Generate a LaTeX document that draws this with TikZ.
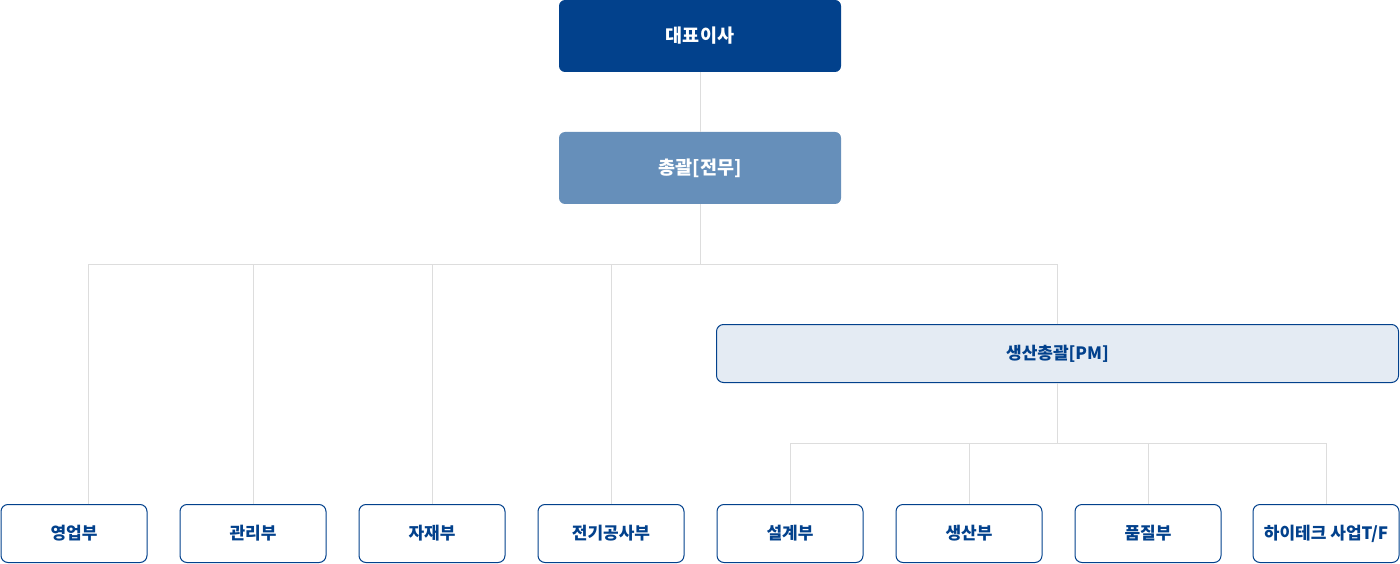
\documentclass[tikz,border=0pt]{standalone}
\usepackage{fontspec}
\newfontfamily\kr{Noto Sans CJK KR}
\definecolor{navy}{HTML}{02418C}
\definecolor{steel}{HTML}{668FBA}
\definecolor{pale}{HTML}{E4EBF3}
\definecolor{wire}{HTML}{DDDDDD}
\tikzset{
    topbox/.style={rounded corners=6pt, minimum width=282pt, minimum height=72pt,
        text=white, font=\kr\bfseries\fontsize{18.5pt}{22pt}\selectfont},
    deptbox/.style={draw=navy, line width=1pt, rounded corners=7pt, fill=white,
        minimum width=146pt, minimum height=58pt, text=navy,
        font=\kr\bfseries\fontsize{17pt}{20pt}\selectfont},
    link/.style={draw=wire, line width=1pt}
}
\begin{document}
\begin{tikzpicture}[x=1pt, y=-1pt]
    \useasboundingbox (0,0) rectangle (1400,564);
    \node[topbox, fill=navy] (ceo) at (700,36) {대표이사};
    \node[topbox, fill=steel] (gm) at (700,168) {총괄[전무]};
    \node[deptbox, fill=pale, minimum width=682pt] (pm) at (1057.5,353.5) {생산총괄[PM]};
    \node[deptbox] (sales) at (74,533.5) {영업부};
    \node[deptbox] (admin) at (253,533.5) {관리부};
    \node[deptbox] (matl) at (432,533.5) {자재부};
    \node[deptbox] (elec) at (611,533.5) {전기공사부};
    \node[deptbox] (design) at (790,533.5) {설계부};
    \node[deptbox] (prod) at (969,533.5) {생산부};
    \node[deptbox] (qual) at (1148,533.5) {품질부};
    \node[deptbox] (hitech) at (1326,533.5) {하이테크 사업T/F};
    \coordinate (bus) at (700,264);
    \coordinate (pmbus) at (1057.5,443);
    \draw[link] (ceo) -- (gm);
    \draw[link] (gm) -- (bus);
    \draw[link] ([xshift=14pt]sales.north) |- (bus);
    \draw[link] (pm) |- (bus);
    \foreach \d in {admin,matl,elec}
        \draw[link] (\d.north) -- (\d.north |- bus);
    \draw[link] (pm) -- (pmbus);
    \draw[link] (design.north) |- (pmbus);
    \draw[link] (hitech.north) |- (pmbus);
    \foreach \d in {prod,qual}
        \draw[link] (\d.north) -- (\d.north |- pmbus);
\end{tikzpicture}
\end{document}
